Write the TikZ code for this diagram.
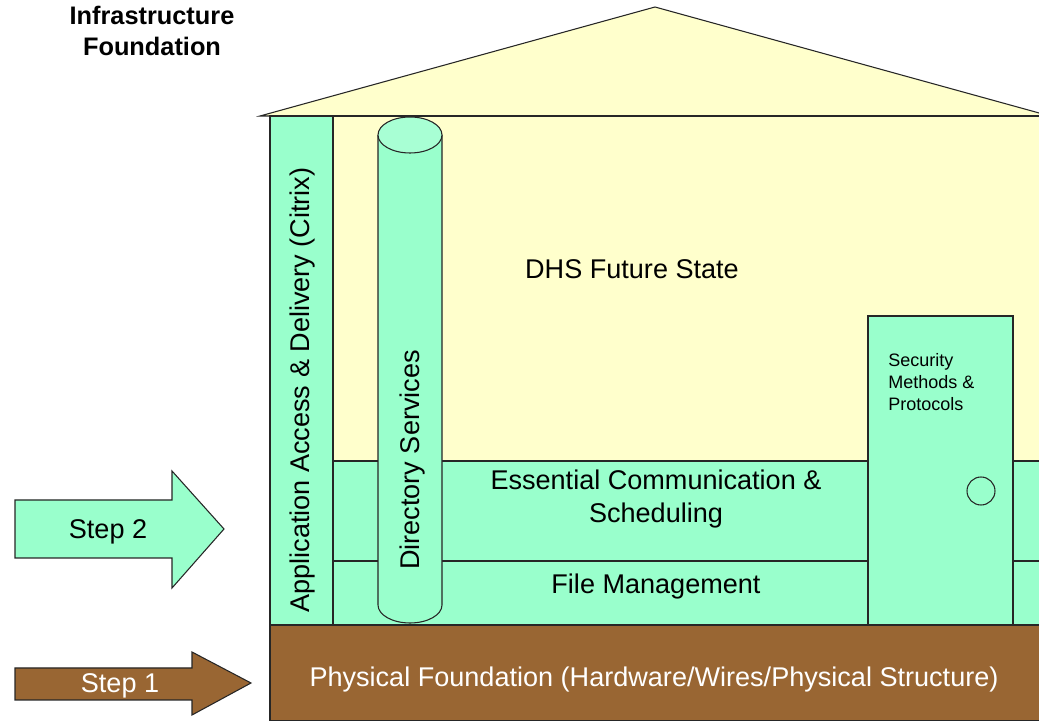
\documentclass[tikz,border=0pt]{standalone}
\usepackage{fontspec}
\setmainfont{Liberation Sans}
\usetikzlibrary{positioning}

\definecolor{mint}{HTML}{99FFCC}
\definecolor{cream}{HTML}{FFFFCC}
\definecolor{soil}{HTML}{996633}

\begin{document}
\begin{tikzpicture}[x=0.75pt, y=0.75pt,
  part/.style={draw=black!85, line width=0.8pt},
  lbl/.style={inner sep=0pt, font=\fontsize{20.3}{24.75}\selectfont, align=center},
  small/.style={inner sep=0pt, font=\fontsize{13.5}{16.5}\selectfont, align=left},
  title/.style={inner sep=0pt, font=\fontsize{19}{23.5}\selectfont\bfseries, align=center}
]
  \useasboundingbox (0,0) rectangle (1039,721);
  % Roof and house body
  \draw[part, fill=cream] (260,605) -- (655,714) -- (1050,605) -- cycle;
  \draw[part, fill=cream] (270,96) rectangle (1050,605);
  % Bands across the house
  \draw[part, fill=mint] (333,160) rectangle (1050,260);
  \draw[part, fill=mint] (333,96) rectangle (1050,160);
  % Left column
  \draw[part, fill=mint] (270,96) rectangle (333,605);
  % Directory pillar
  \draw[part, fill=mint] (378,586) -- (378,116) arc[start angle=180, end angle=360, x radius=32, y radius=18] -- (442,586);
  \draw[part, fill=mint!85!white] (410,586) ellipse[x radius=32, y radius=18];
  % Door
  \draw[part, fill=mint] (868,96) rectangle (1013,405);
  \draw[part] (981,230) circle[radius=14];
  % Foundation
  \draw[part, fill=soil] (270,0) rectangle (1050,96);
  % Step arrows
  \draw[part, fill=mint] (15,163) -- (172,163) -- (172,133) -- (224,192) -- (172,250) -- (172,221) -- (15,221) -- cycle;
  \draw[part, fill=soil] (15,21) -- (192,21) -- (192,6) -- (251,38) -- (192,69) -- (192,53) -- (15,53) -- cycle;

  % Labels
  \node[title] (head) at (152,690) {Infrastructure\\Foundation};
  \node[lbl] (future) at (632,452) {DHS Future State};
  \node[lbl] (comm) at (656,222) {Essential Communication \&\\Scheduling};
  \node[lbl] (files) at (656,134) {File Management};
  \node[lbl, text=white] (phys) at (654,41) {Physical Foundation (Hardware/Wires/Physical Structure)};
  \node[lbl, rotate=90] (apps) at (302,331) {Application Access \& Delivery (Citrix)};
  \node[lbl, rotate=90] (dir) at (412,261) {Directory Services};
  \node[small, anchor=north west] (sec) at (888,368) {Security\\Methods \&\\Protocols};
  \node[lbl] (step2) at (108,189) {Step 2};
  \node[lbl, text=white] (step1) at (120,35) {Step 1};
\end{tikzpicture}
\end{document}
